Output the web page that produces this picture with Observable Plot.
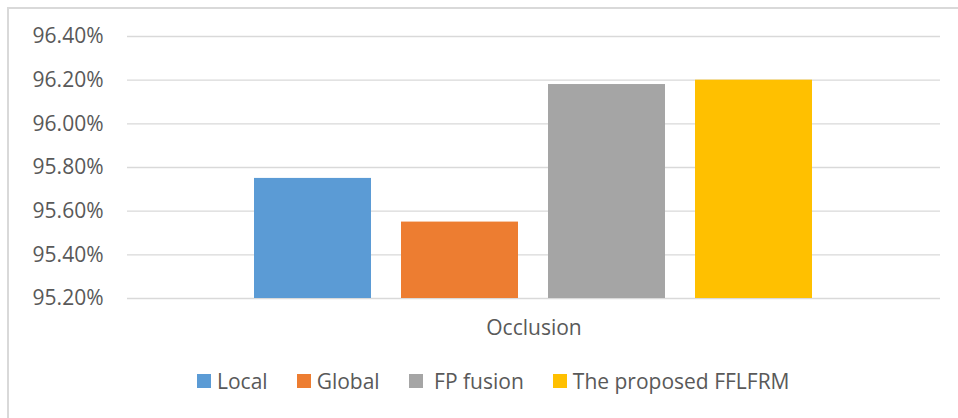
<!DOCTYPE html>
<html>
<head>
<meta charset="utf-8">
<script src="https://cdn.jsdelivr.net/npm/d3@7"></script>
<script src="https://cdn.jsdelivr.net/npm/@observablehq/plot@0.6"></script>
<style>
  html, body { margin: 0; padding: 0; background: #fff; }
  body { width: 958px; height: 418px; position: relative; overflow: hidden; font-family: "Open Sans", sans-serif; }
  #frame { position: absolute; left: 7px; top: 7px; width: 960px; height: 420px; border-left: 2px solid #d9d9d9; border-top: 2px solid #d9d9d9; box-sizing: border-box; }
  #chart { position: absolute; left: 0; top: 0; }
  #legend { position: absolute; left: 197px; top: 368px; display: flex; align-items: center; font-size: 21px; color: #595959; line-height: 26px; white-space: pre; }
  #legend .item { display: flex; align-items: center; margin-right: 29px; }
  #legend .sw { width: 14px; height: 14px; margin-right: 6px; }
</style>
</head>
<body>
<div id="frame"></div>
<div id="chart"></div>
<div id="legend"></div>
<script>
const categories = ["Occlusion"];
const series = ["Local", "Global", "FP fusion", "The proposed FFLFRM"];
const legendLabels = ["Local", "Global", " FP fusion", "The proposed FFLFRM"];
const values = [95.75, 95.55, 96.18, 96.20];
const colors = ["#5B9BD5", "#ED7D31", "#A5A5A5", "#FFC000"];
const yTicks = [95.2, 95.4, 95.6, 95.8, 96.0, 96.2, 96.4];
const yMin = 95.2;
const yMax = 96.4;

const data = series.map((s, i) => ({cat: categories[0], series: s, value: values[i]}));

const chart = Plot.plot({
  width: 958,
  height: 345,
  marginLeft: 127,
  marginRight: 18,
  marginTop: 36,
  marginBottom: 47,
  style: {fontFamily: "Open Sans", fontSize: "21px", color: "#595959", background: "transparent"},
  fx: {domain: categories, padding: 0, axis: "bottom", tickSize: 0, tickPadding: 22, label: null},
  x: {domain: series, paddingInner: 0.204, paddingOuter: 0.867, axis: null},
  y: {domain: [yMin, yMax], ticks: yTicks, tickSize: 0, tickPadding: 24, tickFormat: d => d.toFixed(2) + "%", label: null},
  color: {domain: series, range: colors},
  marks: [
    Plot.gridY(yTicks, {stroke: "#d9d9d9", strokeOpacity: 1, strokeWidth: 1.3}),
    Plot.barY(data, {fx: "cat", x: "series", y1: () => yMin, y2: "value", fill: "series"})
  ]
});
document.getElementById("chart").appendChild(chart);

const legend = document.getElementById("legend");
series.forEach((s, i) => {
  const item = document.createElement("div");
  item.className = "item";
  const sw = document.createElement("span");
  sw.className = "sw";
  sw.style.background = colors[i];
  const t = document.createElement("span");
  t.textContent = legendLabels[i];
  item.appendChild(sw);
  item.appendChild(t);
  legend.appendChild(item);
});
</script>
</body>
</html>
